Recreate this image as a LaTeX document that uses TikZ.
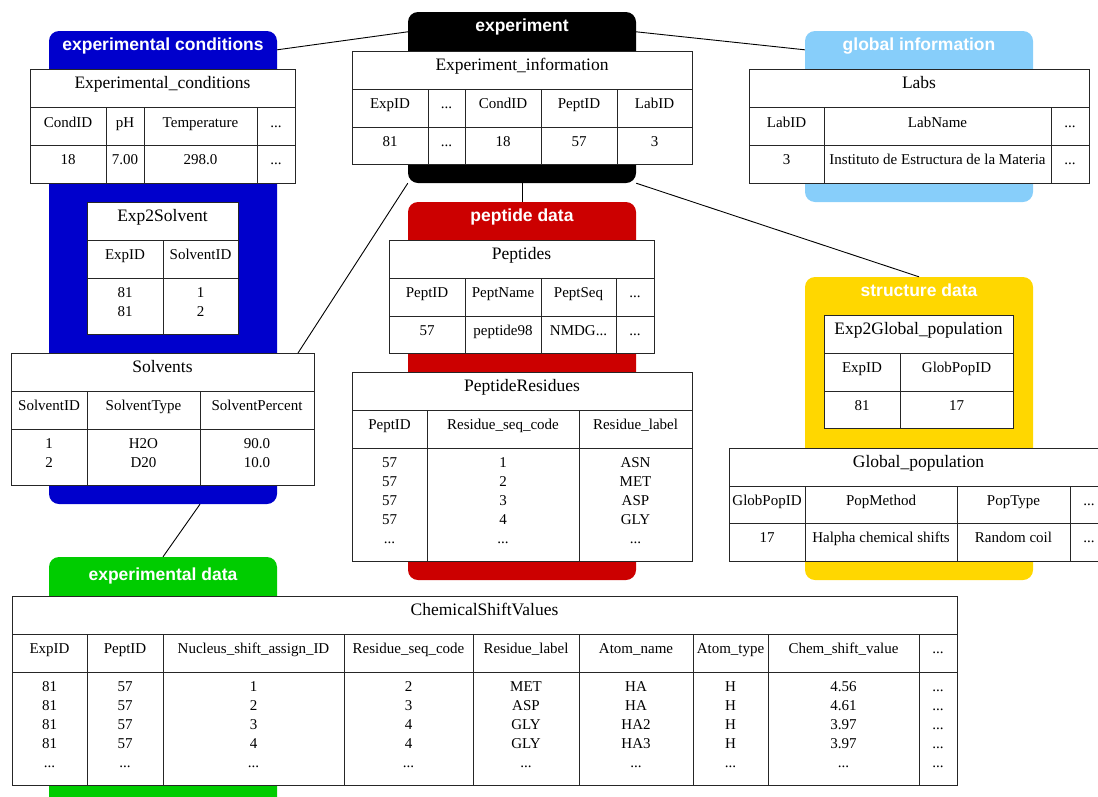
\documentclass[tikz,border=0pt]{standalone}
\usepackage{fontspec}
\setmainfont{Liberation Serif}
\setsansfont{Liberation Sans}
\usetikzlibrary{calc}
\definecolor{cblue}{RGB}{0,0,204}
\definecolor{clblue}{RGB}{135,206,250}
\definecolor{cred}{RGB}{204,0,0}
\definecolor{cgold}{RGB}{255,215,0}
\definecolor{cgreen}{RGB}{0,204,0}
% grid of a table: #1 left, #2 right, #3 inner column xs, #4 top, #5 title bottom, #6 header bottom, #7 bottom
\newcommand\tgrid[7]{%
  \fill[white] (#1,#4) rectangle (#2,#7);
  \draw[tline] (#1,#4) rectangle (#2,#7);
  \draw[tline] (#1,#5) -- (#2,#5) (#1,#6) -- (#2,#6);
  \foreach \xx in {#3} {\draw[tline] (\xx,#5) -- (\xx,#7);}
}
\newcommand\cell[3]{\node[cellt] at (#1,#2) {\begin{tabular}[t]{@{}c@{}}#3\end{tabular}};}
\newcommand\ttl[3]{\node[ttlt] at (#1,#2) {#3};}
\begin{document}
\begin{tikzpicture}[x=1pt,y=-1pt,
  panel/.style={rounded corners=10pt, inner sep=0pt, minimum width=228pt, draw=none},
  plabel/.style={anchor=base, inner sep=0pt, text=white, font=\fontsize{17.5}{20}\selectfont\sffamily\bfseries},
  tline/.style={draw=black!85, line width=1pt},
  cellt/.style={anchor=base, inner sep=0pt, font=\fontsize{15}{19}\selectfont},
  ttlt/.style={anchor=base, inner sep=0pt, font=\fontsize{17.5}{20}\selectfont},
  conn/.style={draw=black, line width=0.9pt}]
\useasboundingbox (0,0) rectangle (1098,796);
\clip (0,0) rectangle (1098,796);

% panels
\node[panel, fill=cblue, minimum height=473pt] (cond) at (163,267.5) {};
\node[panel, fill=black, minimum height=171pt] (exp) at (522,97.5) {};
\node[panel, fill=clblue, minimum height=171pt] (glob) at (919,116.5) {};
\node[panel, fill=cred, minimum height=378pt] (pep) at (522,391) {};
\node[panel, fill=cgold, minimum height=303pt] (struct) at (919,428.5) {};
\node[panel, fill=cgreen, minimum height=263pt] (edata) at (163,688.5) {};

\node[plabel] (lcond) at (163,50.5) {experimental conditions};
\node[plabel] (lexp) at (522,31.5) {experiment};
\node[plabel] (lglob) at (919,50.5) {global information};
\node[plabel] (lpep) at (522,221.5) {peptide data};
\node[plabel] (lstruct) at (919,296.5) {structure data};
\node[plabel] (ledata) at (163,580.5) {experimental data};

% connectors
\coordinate (solvtop) at (298,353);
\draw[conn] ($(cond.north east)+(0,19)$) -- ($(exp.north west)+(0,20)$);
\draw[conn] ($(exp.north east)+(0,20)$) -- ($(glob.north west)+(0,19)$);
\draw[conn] (exp.south west) -- (solvtop);
\draw[conn] (exp.south) -- (pep.north);
\draw[conn] (exp.south east) -- (struct.north);
\draw[conn] ($(cond.south)+(37,0)$) -- (edata.north);

% Experimental_conditions
\tgrid{30}{295}{106,144,257}{69}{107}{145}{183}
\ttl{162.5}{88}{Experimental\_conditions}
\cell{68}{127}{CondID}\cell{125}{127}{pH}\cell{200.5}{127}{Temperature}\cell{276}{127}{...}
\cell{68}{164}{18}\cell{125}{164}{7.00}\cell{200.5}{164}{298.0}\cell{276}{164}{...}

% Experiment_information
\tgrid{352}{692}{428,465,541,617}{51}{89}{127}{164}
\ttl{522}{70}{Experiment\_information}
\cell{390}{108.5}{ExpID}\cell{446.5}{108.5}{...}\cell{503}{108.5}{CondID}\cell{579}{108.5}{PeptID}\cell{654.5}{108.5}{LabID}
\cell{390}{146}{81}\cell{446.5}{146}{...}\cell{503}{146}{18}\cell{579}{146}{57}\cell{654.5}{146}{3}

% Labs
\tgrid{749}{1089}{824,1051}{69}{107}{145}{183}
\ttl{919}{88}{Labs}
\cell{786.5}{127}{LabID}\cell{937.5}{127}{LabName}\cell{1070}{127}{...}
\cell{786.5}{164.5}{3}\cell{937.5}{164.5}{Instituto de Estructura de la Materia}\cell{1070}{164.5}{...}

% Exp2Solvent
\tgrid{87}{238}{163}{202}{240}{278}{334}
\ttl{162.5}{221}{Exp2Solvent}
\cell{125}{259.5}{ExpID}\cell{200.5}{259.5}{SolventID}
\cell{125}{297}{81\\81}\cell{200.5}{297}{1\\2}

% Solvents
\tgrid{11}{314}{87,200}{353}{391}{429}{485}
\ttl{162.5}{372}{Solvents}
\cell{49}{410.5}{SolventID}\cell{143.5}{410.5}{SolventType}\cell{257}{410.5}{SolventPercent}
\cell{49}{448}{1\\2}\cell{143.5}{448}{H2O\\D20}\cell{257}{448}{90.0\\10.0}

% Peptides
\tgrid{389}{654}{465,541,616}{240}{278}{316}{353}
\ttl{521.5}{259}{Peptides}
\cell{427}{297.5}{PeptID}\cell{503}{297.5}{PeptName}\cell{578.5}{297.5}{PeptSeq}\cell{635}{297.5}{...}
\cell{427}{335}{57}\cell{503}{335}{peptide98}\cell{578.5}{335}{NMDG...}\cell{635}{335}{...}

% PeptideResidues
\tgrid{352}{692}{427,579}{372}{410}{448}{561}
\ttl{522}{391}{PeptideResidues}
\cell{389.5}{429.5}{PeptID}\cell{503}{429.5}{Residue\_seq\_code}\cell{635.5}{429.5}{Residue\_label}
\cell{389.5}{467}{57\\57\\57\\57\\...}\cell{503}{467}{1\\2\\3\\4\\...}\cell{635.5}{467}{ASN\\MET\\ASP\\GLY\\...}

% Exp2Global_population
\tgrid{824}{1013}{900}{315}{353}{391}{428}
\ttl{918.5}{334}{Exp2Global\_population}
\cell{862}{372.5}{ExpID}\cell{956.5}{372.5}{GlobPopID}
\cell{862}{410}{81}\cell{956.5}{410}{17}

% Global_population
\tgrid{729}{1108}{805,957,1070}{448}{486}{523}{561}
\ttl{918.5}{467}{Global\_population}
\cell{767}{505.5}{GlobPopID}\cell{881}{505.5}{PopMethod}\cell{1013.5}{505.5}{PopType}\cell{1089}{505.5}{...}
\cell{767}{542.5}{17}\cell{881}{542.5}{Halpha chemical shifts}\cell{1013.5}{542.5}{Random coil}\cell{1089}{542.5}{...}

% ChemicalShiftValues
\tgrid{12}{957}{87,163,344,473,579,693,768,919}{596}{634}{672}{785}
\ttl{484.5}{615}{ChemicalShiftValues}
\cell{49.5}{653.5}{ExpID}\cell{125}{653.5}{PeptID}\cell{253.5}{653.5}{Nucleus\_shift\_assign\_ID}\cell{408.5}{653.5}{Residue\_seq\_code}\cell{526}{653.5}{Residue\_label}\cell{636}{653.5}{Atom\_name}\cell{730.5}{653.5}{Atom\_type}\cell{843.5}{653.5}{Chem\_shift\_value}\cell{938}{653.5}{...}
\cell{49.5}{691.5}{81\\81\\81\\81\\...}
\cell{125}{691.5}{57\\57\\57\\57\\...}
\cell{253.5}{691.5}{1\\2\\3\\4\\...}
\cell{408.5}{691.5}{2\\3\\4\\4\\...}
\cell{526}{691.5}{MET\\ASP\\GLY\\GLY\\...}
\cell{636}{691.5}{HA\\HA\\HA2\\HA3\\...}
\cell{730.5}{691.5}{H\\H\\H\\H\\...}
\cell{843.5}{691.5}{4.56\\4.61\\3.97\\3.97\\...}
\cell{938}{691.5}{...\\...\\...\\...\\...}
\end{tikzpicture}
\end{document}
